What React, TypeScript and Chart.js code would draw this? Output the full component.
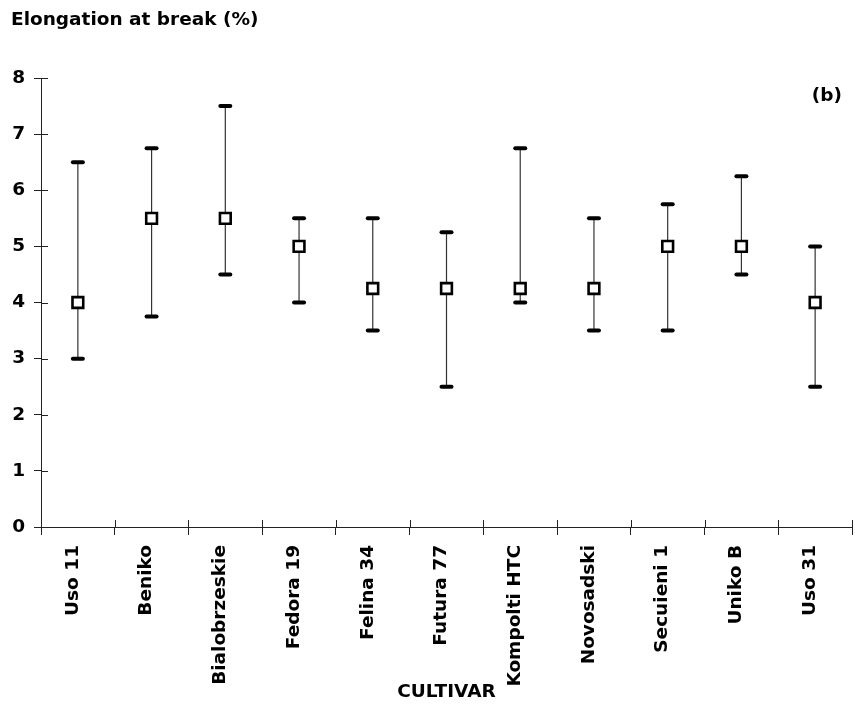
import React, { useEffect, useRef } from 'react';
import { Chart, registerables } from 'chart.js';

Chart.register(...registerables);

const cultivars = [
  'Uso 11', 'Beniko', 'Bialobrzeskie', 'Fedora 19', 'Felina 34', 'Futura 77',
  'Kompolti HTC', 'Novosadski', 'Secuieni 1', 'Uniko B', 'Uso 31',
];
const meanValues = [4, 5.5, 5.5, 5, 4.25, 4.25, 4.25, 4.25, 5, 5, 4];
const lowValues = [3, 3.75, 4.5, 4, 3.5, 2.5, 4, 3.5, 3.5, 4.5, 2.5];
const highValues = [6.5, 6.75, 7.5, 5.5, 5.5, 5.25, 6.75, 5.5, 5.75, 6.25, 5];
const yTickValues = [0, 1, 2, 3, 4, 5, 6, 7, 8];
const titleText = 'Elongation at break (%)';
const xTitleText = 'CULTIVAR';
const panelLabel = '(b)';

const FONT = '"DejaVu Sans", "Liberation Sans", Arial, sans-serif';
const FS = 18.5;

const errorBarPlugin = {
  id: 'errorBars',
  beforeDatasetsDraw(chart: any) {
    const { ctx, scales } = chart;
    const y = scales.y;
    const meta = chart.getDatasetMeta(0);
    ctx.save();
    meta.data.forEach((pt: any, i: number) => {
      const px = pt.x;
      const yl = y.getPixelForValue(lowValues[i]);
      const yh = y.getPixelForValue(highValues[i]);
      ctx.strokeStyle = '#333';
      ctx.lineWidth = 1.2;
      ctx.lineCap = 'butt';
      ctx.beginPath();
      ctx.moveTo(px, yl);
      ctx.lineTo(px, yh);
      ctx.stroke();
      ctx.strokeStyle = '#000';
      ctx.lineWidth = 4;
      ctx.lineCap = 'round';
      [yl, yh].forEach((yy) => {
        ctx.beginPath();
        ctx.moveTo(px - 5, yy);
        ctx.lineTo(px + 5, yy);
        ctx.stroke();
      });
    });
    ctx.restore();
  },
};

const innerTicksPlugin = {
  id: 'innerTicks',
  afterDraw(chart: any) {
    const { ctx, chartArea, scales } = chart;
    const { x, y } = scales;
    ctx.save();
    ctx.strokeStyle = '#222';
    ctx.lineWidth = 1;
    yTickValues.forEach((v) => {
      const py = Math.round(y.getPixelForValue(v)) + 0.5;
      ctx.beginPath();
      ctx.moveTo(chartArea.left, py);
      ctx.lineTo(chartArea.left + 7, py);
      ctx.stroke();
    });
    const w = x.getPixelForValue(1) - x.getPixelForValue(0);
    const x0 = x.getPixelForValue(0);
    for (let i = 0; i <= cultivars.length; i++) {
      const px = Math.round(x0 + (i - 0.5) * w) + 0.5;
      ctx.beginPath();
      ctx.moveTo(px, chartArea.bottom);
      ctx.lineTo(px, chartArea.bottom - 7);
      ctx.stroke();
    }
    ctx.fillStyle = '#000';
    ctx.font = `bold ${FS}px ${FONT}`;
    ctx.textAlign = 'right';
    ctx.textBaseline = 'middle';
    ctx.fillText(panelLabel, chartArea.right - 10, chartArea.top + 18);
    ctx.restore();
  },
};

export default function App() {
  const ref = useRef<HTMLCanvasElement | null>(null);
  useEffect(() => {
    if (!ref.current) return;
    Chart.defaults.font.family = FONT;
    const chart = new Chart(ref.current, {
      type: 'line',
      data: {
        labels: cultivars,
        datasets: [
          {
            data: meanValues,
            showLine: false,
            pointStyle: 'rect',
            pointRadius: 7.6,
            pointHoverRadius: 7.6,
            pointBorderWidth: 2.6,
            pointBackgroundColor: '#fff',
            pointBorderColor: '#000',
          },
        ],
      },
      options: {
        responsive: false,
        animation: false,
        layout: { autoPadding: false, padding: { left: 11, right: 3, top: 0, bottom: 0 } },
        plugins: {
          legend: { display: false },
          tooltip: { enabled: false },
          title: {
            display: true,
            text: titleText,
            align: 'start',
            color: '#000',
            font: { size: FS, weight: 'bold', family: FONT },
            padding: { top: 9, bottom: 46.8 },
          },
        },
        scales: {
          x: {
            type: 'category',
            offset: true,
            grid: {
              display: true,
              drawOnChartArea: false,
              drawTicks: true,
              tickLength: 8,
              color: '#222',
              offset: true,
            },
            border: { display: true, color: '#222', width: 1 },
            ticks: {
              autoSkip: false,
              minRotation: 90,
              maxRotation: 90,
              padding: 10,
              labelOffset: -5,
              color: '#000',
              font: { size: FS, weight: 'bold', family: FONT },
            },
            title: {
              display: true,
              text: xTitleText,
              color: '#000',
              font: { size: FS, weight: 'bold', family: FONT },
              padding: { top: 0, bottom: 5 },
            },
            afterFit: (s: any) => {
              s.height = 181;
              s.paddingLeft = 0;
              s.paddingRight = 0;
            },
          },
          y: {
            min: 0,
            max: 8,
            grid: {
              display: true,
              drawOnChartArea: false,
              drawTicks: true,
              tickLength: 7,
              color: '#222',
            },
            border: { display: true, color: '#222', width: 1 },
            ticks: {
              stepSize: 1,
              padding: 9,
              color: '#000',
              font: { size: FS, weight: 'bold', family: FONT },
            },
            afterFit: (s: any) => {
              s.width = 30;
            },
          },
        },
      },
      plugins: [errorBarPlugin, innerTicksPlugin],
    });
    return () => chart.destroy();
  }, []);
  return (
    <canvas
      ref={ref}
      width={855}
      height={708}
      style={{ position: 'fixed', left: 0, top: 0, display: 'block', background: '#fff' }}
    />
  );
}
